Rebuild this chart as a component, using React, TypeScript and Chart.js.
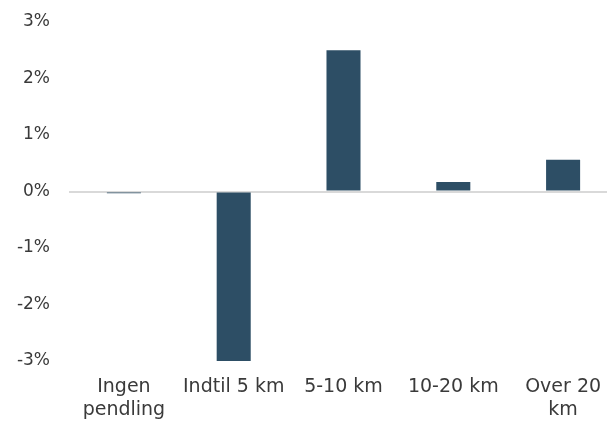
import React, { useEffect, useRef } from "react";
import { Chart, registerables } from "chart.js";

Chart.register(...registerables);

const categories: (string | string[])[] = [
  ["Ingen", "pendling"],
  "Indtil 5 km",
  "5-10 km",
  "10-20 km",
  ["Over 20", "km"],
];
const values: number[] = [-0.03, -3.05, 2.5, 0.17, 0.56];
const yTicks: number[] = [-3, -2, -1, 0, 1, 2, 3];

export default function App() {
  const ref = useRef<HTMLCanvasElement | null>(null);
  useEffect(() => {
    document.body.style.overflow = "hidden";
    const ctx = ref.current!;
    const family = "'DejaVu Sans', sans-serif";
    const chart = new Chart(ctx, {
      type: "bar",
      data: {
        labels: categories,
        datasets: [
          {
            data: values,
            backgroundColor: "#2d4e65",
            borderWidth: 0,
            categoryPercentage: 1,
            barPercentage: 0.31,
          },
        ],
      },
      options: {
        animation: false,
        responsive: false,
        maintainAspectRatio: false,
        layout: { padding: { top: 22, right: 2, left: 0, bottom: 0 } },
        plugins: { legend: { display: false }, tooltip: { enabled: false } },
        scales: {
          x: {
            grid: { display: false, drawTicks: false },
            border: { display: false },
            ticks: {
              color: "#3a3a3a",
              font: { family, size: 19, lineHeight: 1.24 },
              padding: 14,
              maxRotation: 0,
              autoSkip: false,
            },
            afterFit: (s: any) => {
              s.height = 63;
              s.paddingLeft = 0;
              s.paddingRight = 0;
            },
          },
          y: {
            min: -3,
            max: 3,
            afterBuildTicks: (s: any) => {
              s.ticks = yTicks.map((v) => ({ value: v }));
            },
            grid: {
              drawTicks: false,
              lineWidth: (c: any) => (c.tick && c.tick.value === 0 ? 2 : 0),
              color: (c: any) => (c.tick && c.tick.value === 0 ? "#d9d9d9" : "rgba(0,0,0,0)"),
            },
            border: { display: false },
            ticks: {
              color: "#3a3a3a",
              font: { family, size: 17 },
              padding: 19,
              callback: (v: any) => `${v}%`,
            },
            afterFit: (s: any) => {
              s.width = 69;
              s.paddingTop = 0;
              s.paddingBottom = 0;
            },
          },
        },
      },
    });
    return () => chart.destroy();
  }, []);
  return (
    <div style={{ position: "absolute", left: 0, top: 0, width: 620, height: 424 }}>
      <canvas ref={ref} width={620} height={424} style={{ display: "block" }} />
    </div>
  );
}
